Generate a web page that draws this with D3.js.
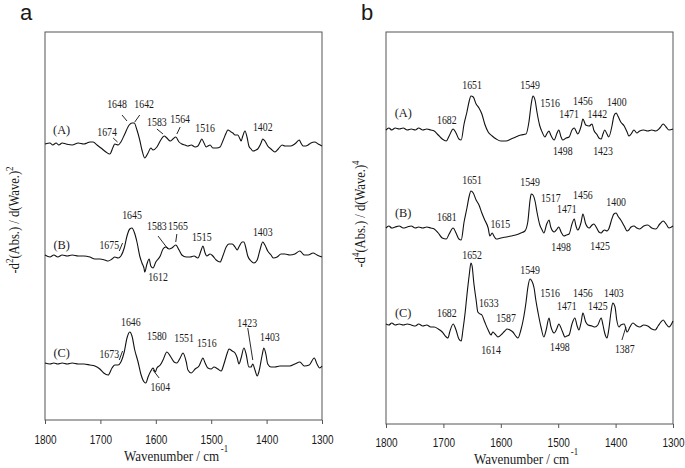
<!DOCTYPE html>
<html>
<head>
<meta charset="utf-8">
<script src="https://cdn.jsdelivr.net/npm/d3@7"></script>
<style>
html,body{margin:0;padding:0;background:#fff;}
svg{display:block;}
</style>
</head>
<body>
<svg id="chart" width="685" height="468"></svg>
<script>
// ---------- DATA ----------
const tickValues = [1800, 1700, 1600, 1500, 1400, 1300];
const traceNames = ["(A)", "(B)", "(C)"];

// Panel a: second derivative spectra  [wavenumber, value (arb. units)]
const aSpecA = [[1800,0],[1791,1],[1786,-1],[1780,1],[1775,-1],[1769,1],[1762,0],[1751,-1],[1740,1],[1730,0],[1724,1],[1719,2],[1713,2],[1706,-1],[1699,-4],[1690,-8],[1683,-10],[1677,-3],[1674,0],[1668,-1],[1663,2],[1656,10],[1648,19],[1643,21],[1639,21],[1634,14],[1629,4],[1625,-6],[1620,-14],[1614,-9],[1609,-4],[1605,-6],[1598,-3],[1591,4],[1585,8],[1580,6],[1574,3],[1569,5],[1564,7],[1558,2],[1553,0],[1547,-1],[1542,-2],[1536,-1],[1529,-3],[1524,-2],[1520,2],[1517,5],[1513,1],[1509,-3],[1506,-2],[1502,-1],[1497,-4],[1490,-4],[1484,-3],[1479,3],[1473,11],[1470,14],[1464,12],[1461,11],[1457,9],[1452,9],[1448,5],[1446,3],[1443,8],[1439,13],[1435,6],[1432,-2],[1428,-5],[1425,-7],[1419,-6],[1416,-5],[1410,1],[1407,5],[1403,3],[1398,-2],[1392,-5],[1385,-8],[1379,-5],[1372,-1],[1367,-2],[1361,-2],[1356,-2],[1352,-1],[1347,1],[1341,4],[1338,1],[1334,-2],[1329,-2],[1325,-1],[1320,1],[1313,2],[1307,0],[1300,-2]];
const aSpecB = [[1800,2],[1791,0],[1784,2],[1777,0],[1769,2],[1760,1],[1751,2],[1740,1],[1730,1],[1719,0],[1710,-2],[1701,-2],[1692,-3],[1686,-4],[1679,-2],[1674,0],[1668,-1],[1663,1],[1657,9],[1652,21],[1647,28],[1643,29],[1639,25],[1634,15],[1629,1],[1625,-6],[1621,-12],[1620,-15],[1616,-7],[1612,-2],[1609,-9],[1605,-11],[1600,-5],[1592,1],[1587,8],[1582,10],[1576,8],[1571,9],[1564,12],[1558,7],[1553,2],[1545,0],[1538,0],[1531,1],[1524,-1],[1518,7],[1515,11],[1511,4],[1508,1],[1502,3],[1497,1],[1491,-3],[1484,-5],[1479,1],[1473,10],[1468,13],[1462,13],[1457,10],[1453,7],[1450,10],[1444,15],[1441,15],[1437,8],[1434,1],[1428,-4],[1423,-6],[1417,-3],[1412,7],[1407,15],[1403,12],[1398,6],[1392,2],[1388,-1],[1381,0],[1374,3],[1367,3],[1358,2],[1349,3],[1340,6],[1332,2],[1325,2],[1316,4],[1309,2],[1300,0]];
const aSpecC = [[1800,2],[1791,1],[1784,2],[1777,1],[1769,2],[1760,1],[1751,2],[1740,1],[1730,1],[1719,0],[1710,-1],[1701,-4],[1694,-8],[1686,-10],[1679,-3],[1674,0],[1668,0],[1663,3],[1657,13],[1652,27],[1647,33],[1643,29],[1638,15],[1632,3],[1627,-9],[1621,-17],[1618,-18],[1614,-12],[1609,-6],[1605,-3],[1601,-7],[1598,-3],[1592,0],[1587,5],[1580,13],[1574,9],[1567,3],[1562,2],[1556,7],[1551,12],[1545,3],[1542,-5],[1536,-8],[1529,-4],[1522,-1],[1518,4],[1515,7],[1511,2],[1506,-3],[1500,-4],[1495,-2],[1488,-4],[1482,-6],[1477,1],[1471,12],[1468,16],[1462,14],[1457,12],[1453,7],[1450,1],[1446,7],[1441,17],[1437,11],[1432,-2],[1428,-2],[1425,1],[1421,-5],[1417,-11],[1414,-7],[1408,10],[1405,17],[1401,10],[1398,1],[1392,-2],[1385,-2],[1376,-1],[1367,-1],[1358,-1],[1349,1],[1340,3],[1332,-1],[1323,0],[1314,7],[1309,1],[1304,-3],[1300,-1]];

// Panel b: fourth derivative spectra  [wavenumber, value (arb. units)]
const bSpecA = [[1800,-1],[1795,1],[1790,-1],[1784,1],[1777,0],[1770,1],[1763,-1],[1756,0],[1749,-1],[1743,1],[1736,-1],[1729,0],[1722,-1],[1716,-2],[1709,-6],[1702,-10],[1695,-12],[1690,-7],[1683,0],[1678,-4],[1673,-10],[1669,-11],[1664,5],[1659,17],[1655,28],[1652,33],[1648,32],[1643,25],[1638,21],[1633,15],[1628,5],[1622,-3],[1615,-7],[1608,-10],[1600,-12],[1591,-12],[1582,-10],[1574,-8],[1565,-6],[1556,-5],[1551,7],[1547,25],[1544,33],[1540,28],[1537,17],[1532,3],[1528,-3],[1523,-8],[1520,-5],[1516,-2],[1513,-6],[1507,-11],[1502,-4],[1499,-1],[1495,-8],[1492,-11],[1486,-9],[1481,-8],[1476,-1],[1472,1],[1469,-2],[1466,-5],[1460,3],[1457,10],[1452,4],[1446,3],[1441,5],[1438,-1],[1432,-6],[1429,-9],[1425,-10],[1422,-5],[1419,-1],[1415,-5],[1412,-8],[1406,4],[1403,13],[1399,16],[1396,13],[1391,7],[1385,3],[1380,-3],[1377,-7],[1373,-5],[1368,-1],[1363,-4],[1358,-2],[1351,-1],[1344,-2],[1337,-1],[1330,-2],[1323,1],[1317,5],[1312,2],[1307,-1],[1300,0]];
const bSpecB = [[1800,-1],[1795,1],[1790,-1],[1784,0],[1777,1],[1770,-1],[1763,0],[1756,1],[1749,-1],[1743,0],[1736,-1],[1729,0],[1722,-1],[1716,-2],[1709,-6],[1702,-11],[1695,-12],[1690,-7],[1683,-1],[1678,-6],[1673,-12],[1669,-13],[1664,5],[1659,19],[1655,31],[1652,36],[1648,34],[1643,27],[1638,22],[1633,14],[1628,7],[1622,-1],[1619,-9],[1615,-6],[1612,-9],[1608,-12],[1600,-11],[1591,-10],[1582,-9],[1574,-8],[1565,-6],[1558,-4],[1553,5],[1549,27],[1547,33],[1544,32],[1540,25],[1537,15],[1532,2],[1528,-3],[1525,-6],[1520,3],[1516,7],[1513,0],[1507,-5],[1502,-2],[1499,0],[1495,-5],[1490,-9],[1486,-8],[1481,-7],[1476,3],[1472,8],[1469,1],[1466,-3],[1460,5],[1457,13],[1452,3],[1446,-1],[1441,2],[1438,3],[1432,-2],[1429,-5],[1425,-6],[1422,-4],[1419,-3],[1415,-4],[1412,-2],[1406,9],[1403,13],[1399,14],[1396,11],[1391,7],[1385,1],[1380,-4],[1377,-3],[1373,0],[1368,1],[1363,-1],[1358,-2],[1351,1],[1344,2],[1337,-1],[1330,-2],[1323,3],[1317,6],[1312,3],[1307,-1],[1300,1]];
const bSpecC = [[1800,1],[1795,0],[1790,2],[1784,0],[1777,1],[1770,0],[1763,1],[1756,0],[1749,-1],[1743,1],[1736,-1],[1729,0],[1722,-2],[1716,-2],[1709,-4],[1702,-7],[1695,-12],[1692,-13],[1689,-7],[1683,1],[1678,-5],[1673,-14],[1669,-16],[1666,-5],[1662,13],[1659,30],[1655,50],[1652,62],[1650,59],[1647,42],[1643,25],[1640,13],[1636,11],[1633,10],[1628,3],[1622,-5],[1617,-10],[1614,-7],[1610,-9],[1605,-12],[1598,-9],[1593,-6],[1589,-4],[1584,-5],[1579,-7],[1574,-11],[1570,-13],[1565,-5],[1560,8],[1556,23],[1553,37],[1549,46],[1546,44],[1542,37],[1539,25],[1535,12],[1530,-2],[1525,-12],[1521,-5],[1516,7],[1513,-1],[1507,-8],[1502,-3],[1499,1],[1493,-6],[1488,-12],[1485,-11],[1481,-10],[1476,1],[1471,7],[1467,-1],[1464,-5],[1460,3],[1457,12],[1452,3],[1448,0],[1441,-1],[1436,-2],[1431,0],[1425,7],[1422,0],[1419,-8],[1415,-13],[1412,-5],[1408,13],[1405,22],[1401,18],[1398,5],[1394,-2],[1391,0],[1385,1],[1380,-7],[1375,-2],[1370,2],[1363,-1],[1358,-2],[1351,0],[1344,-1],[1337,-4],[1331,-5],[1326,-1],[1321,3],[1317,5],[1312,1],[1307,-2],[1300,4]];

// vertical stacking offsets (arb. units)
const aOffsets = [276, 163, 55];
const bOffsets = [295, 197, 99];

// peak labels: [text, wavenumber position, value position (relative to trace)]
const aLabelsA = [["1674",1688,12],["1648",1670,40],["1642",1621,40],["1583",1598,22],["1564",1556,25],["1516",1511,16],["1402",1407,17]];
const aLabelsB = [["1675",1684,12],["1645",1643,42],["1583",1598,31],["1565",1560,31],["1515",1517,20],["1403",1407,25],["1612",1596,-20]];
const aLabelsC = [["1673",1684,11],["1646",1645,43],["1580",1598,29],["1551",1549,27],["1516",1508,22],["1423",1435,42],["1403",1394,28],["1604",1592,-22]];
const bLabelsA = [["1682",1694,9],["1651",1650,44],["1549",1549,44],["1516",1514,26],["1456",1457,28],["1400",1398,27],["1471",1481,15],["1442",1432,15],["1498",1492,-22],["1423",1422,-22]];
const bLabelsB = [["1681",1694,10],["1651",1650,47],["1549",1549,45],["1615",1601,3],["1517",1513,29],["1456",1457,32],["1471",1485,18],["1400",1399,25],["1498",1495,-20],["1425",1427,-19]];
const bLabelsC = [["1682",1694,12],["1652",1650,70],["1549",1549,55],["1633",1621,22],["1587",1591,7],["1614",1617,-25],["1516",1514,32],["1456",1457,32],["1403",1403,32],["1471",1485,19],["1425",1431,19],["1498",1497,-22],["1387",1384,-24]];

// leader lines: [wn1, v1, wn2, v2] (relative to trace)
const aLeadA = [[1677,6,1669,2],[1661,29,1652,23],[1629,29,1638,22],[1598,15,1587,10],[1556,17,1562,10]];
const aLeadB = [[1666,6,1660,14],[1596,21,1578,8],[1562,23,1564,15]];
const aLeadC = [[1666,5,1660,14],[1434,37,1425,5],[1605,-5,1594,-13]];
const bLeadC = [[1382,-2,1389,-15]];

// ---------- DRAW ----------
const svg = d3.select("#chart");
const serif = "'Liberation Serif','Times New Roman',serif";
const sans = "'Liberation Sans',Arial,sans-serif";
const ink = "#1a1a1a";

function txt(g, x, y, s, size, sx, family, anchor) {
  return g.append("text")
    .attr("transform", `translate(${x},${y}) scale(${sx},1)`)
    .attr("text-anchor", anchor || "middle")
    .attr("dy", "0.35em")
    .attr("font-family", family)
    .attr("font-size", size)
    .attr("fill", ink)
    .text(s);
}

function panel(cfg) {
  const g = svg.append("g");
  const x = d3.scaleLinear().domain([1800, 1300]).range([cfg.left, cfg.right]);
  const y = d3.scaleLinear().domain([0, cfg.ymax]).range([cfg.bottom, cfg.top]);

  // frame
  g.append("rect").attr("x", cfg.left).attr("y", cfg.top)
    .attr("width", cfg.right - cfg.left).attr("height", cfg.bottom - cfg.top)
    .attr("fill", "none").attr("stroke", "#555").attr("stroke-width", 1);

  // x axis
  const ax = g.append("g").attr("transform", `translate(0,${cfg.bottom})`)
    .call(d3.axisBottom(x).tickValues(tickValues).tickFormat(d3.format("d"))
      .tickSize(4).tickSizeOuter(0).tickPadding(cfg.tickPad));
  ax.select(".domain").remove();
  ax.selectAll(".tick line").attr("stroke", "#555");
  ax.selectAll(".tick text").attr("font-family", sans).attr("font-size", 12.5)
    .attr("fill", ink).attr("transform", "scale(0.8,1)");

  // x title
  const tt = g.append("text")
    .attr("transform", `translate(${cfg.xTitleX},${cfg.xTitleY}) scale(0.87,1)`)
    .attr("text-anchor", "middle").attr("font-family", serif).attr("font-size", 15).attr("fill", ink);
  tt.append("tspan").text("Wavenumber / cm");
  tt.append("tspan").attr("dy", -9).attr("dx", 2).attr("font-size", 10).text("-1");

  // y title
  const yt = g.append("text")
    .attr("transform", `translate(${cfg.yTitleX},${cfg.yTitleY}) rotate(-90) scale(0.9,1)`)
    .attr("text-anchor", "middle").attr("dy", "0.35em")
    .attr("font-family", serif).attr("font-size", 14).attr("fill", ink);
  yt.append("tspan").text("-d");
  yt.append("tspan").attr("dy", -6).attr("font-size", 10).text(cfg.order);
  yt.append("tspan").attr("dy", 6).text("(Abs.) / d(Wave.)");
  yt.append("tspan").attr("dy", -6).attr("font-size", 10).text(cfg.order);

  // panel letter
  g.append("text").attr("x", cfg.letterX).attr("y", 20)
    .attr("font-family", sans).attr("font-size", 22).attr("fill", ink).text(cfg.letter);

  const line = d3.line().x(d => x(d[0])).y(d => y(d[1])).curve(d3.curveMonotoneX);

  cfg.traces.forEach((tr, i) => {
    const off = cfg.offsets[i];
    g.append("path")
      .datum(tr.spec.map(d => [d[0], d[1] + off]))
      .attr("d", line).attr("fill", "none").attr("stroke", "#111").attr("stroke-width", 1.1)
      .attr("stroke-linejoin", "round");
    // trace name
    txt(g, x(1770), y(off + cfg.nameDy[i]), traceNames[i], 13, 0.95, serif);
    // peak labels
    tr.labels.forEach(l => txt(g, x(l[1]), y(off + l[2]), l[0], 12, 0.82, serif));
    // leader lines
    (tr.leads || []).forEach(l => {
      g.append("line").attr("x1", x(l[0])).attr("y1", y(off + l[1]))
        .attr("x2", x(l[2])).attr("y2", y(off + l[3]))
        .attr("stroke", "#111").attr("stroke-width", 0.9);
    });
  });
}

panel({
  letter: "a", letterX: 20, order: "2",
  left: 45, right: 322, top: 32, bottom: 420, ymax: 388, tickPad: 11,
  xTitleX: 176, xTitleY: 461, yTitleX: 14, yTitleY: 220,
  offsets: aOffsets, nameDy: [15, 13, 13],
  traces: [
    { spec: aSpecA, labels: aLabelsA, leads: aLeadA },
    { spec: aSpecB, labels: aLabelsB, leads: aLeadB },
    { spec: aSpecC, labels: aLabelsC, leads: aLeadC }
  ]
});

panel({
  letter: "b", letterX: 361, order: "4",
  left: 386, right: 673, top: 32, bottom: 424, ymax: 392, tickPad: 10,
  xTitleX: 526, xTitleY: 464, yTitleX: 360, yTitleY: 214,
  offsets: bOffsets, nameDy: [17, 15, 13],
  traces: [
    { spec: bSpecA, labels: bLabelsA },
    { spec: bSpecB, labels: bLabelsB },
    { spec: bSpecC, labels: bLabelsC, leads: bLeadC }
  ]
});
</script>
</body>
</html>
